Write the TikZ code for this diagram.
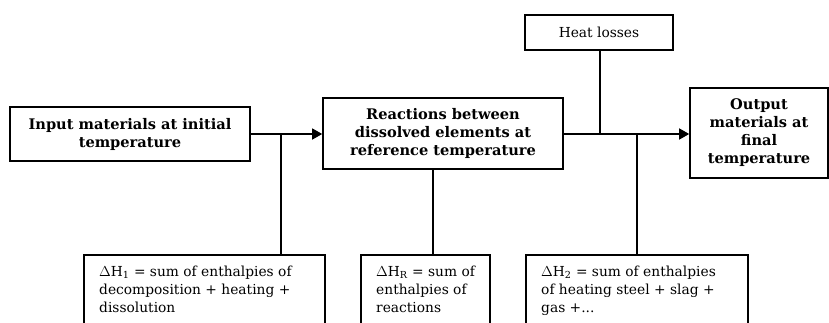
\documentclass[tikz,border=0pt]{standalone}
\usepackage{fontspec}
\setmainfont{DejaVu Serif}
\usetikzlibrary{arrows.meta}
\tikzset{
  x=1pt,y=-1pt,
  topbox/.style={draw, line width=1.6pt, inner sep=0pt, align=center, font=\bfseries\fontsize{14.6}{18}\selectfont},
  heatbox/.style={draw, line width=1.6pt, inner sep=0pt, align=center, font=\fontsize{13.8}{18}\selectfont},
  botbox/.style={draw, line width=1.6pt, inner sep=0pt, anchor=north west},
  bottext/.style={anchor=north west, align=left, inner sep=0pt, font=\fontsize{13.8}{18}\selectfont},
  conn/.style={line width=1.3pt},
  arr/.style={line width=1.3pt, -{Triangle[length=10pt,width=11pt]}}
}
\begin{document}
\begin{tikzpicture}
\useasboundingbox[clip] (0,0) rectangle (829,322);
\fill[white] (0,0) rectangle (829,322);
\node[topbox, minimum width=240pt, minimum height=54pt] (in) at (130,134) {Input materials at initial\\temperature};
\node[topbox, minimum width=240pt, minimum height=71pt] (react) at (443,133.5) {Reactions between\\dissolved elements at\\reference temperature};
\node[heatbox, minimum width=148pt, minimum height=35pt] (heat) at (599,32.5) {Heat losses};
\node[topbox, minimum width=138pt, minimum height=90pt] (out) at (759,133) {Output\\materials at\\final\\temperature};
\node[botbox, minimum width=241pt, minimum height=90pt] (b1) at (83,254) {};
\node[botbox, minimum width=129pt, minimum height=90pt] (b2) at (360,254) {};
\node[botbox, minimum width=222pt, minimum height=90pt] (b3) at (525,254) {};
\node[bottext] (t1) at (99,266) {$\Delta$H\textsubscript{1} = sum of enthalpies of\\decomposition + heating +\\dissolution};
\node[bottext] (t2) at (376,266) {$\Delta$H\textsubscript{R} = sum of\\enthalpies of\\reactions};
\node[bottext] (t3) at (541,266) {$\Delta$H\textsubscript{2} = sum of enthalpies\\of heating steel + slag +\\gas +...};
\coordinate (j1) at (281,134);
\coordinate (j2) at (433,170);
\coordinate (j3) at (600,134);
\coordinate (j4) at (637,134);
\draw[arr] (in.east |- j1) -- (react.west |- j1);
\draw[arr] (react.east |- j1) -- (out.west |- j1);
\draw[conn] (j1) -- (j1 |- b1.north);
\draw[conn] (react.south -| j2) -- (j2 |- b2.north);
\draw[conn] (heat.south -| j3) -- (j3);
\draw[conn] (j4) -- (j4 |- b3.north);
\end{tikzpicture}
\end{document}
